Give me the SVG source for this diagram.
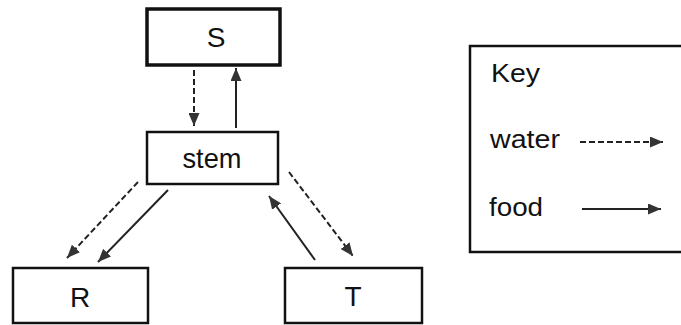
<svg xmlns="http://www.w3.org/2000/svg" width="681" height="325" viewBox="0 0 681 325">
<style>
.box{fill:#fff;stroke:#111;stroke-width:2.5}
.thick{stroke-width:3.5}
.lbl{font-family:"Liberation Sans",Arial,sans-serif;font-size:28px;fill:#111}
.key{font-family:"Liberation Sans",Arial,sans-serif;font-size:26px;fill:#111}
.food{stroke:#222;stroke-width:2;fill:none;marker-end:url(#ah)}
.water{stroke:#222;stroke-width:2;fill:none;stroke-dasharray:6 3;marker-end:url(#ah)}
</style>
<defs>
<marker id="ah" viewBox="0 0 13 11" refX="13" refY="5.5" markerWidth="13" markerHeight="11" markerUnits="userSpaceOnUse" orient="auto">
<path d="M0,0 L13,5.5 L0,11 Z" fill="#333"/>
</marker>
</defs>
<rect width="681" height="325" fill="#fff"/>
<g id="node-S"><rect class="box thick" x="147" y="9" width="133" height="56"/><text class="lbl" x="216" y="47" text-anchor="middle">S</text></g>
<g id="node-stem"><rect class="box" x="147" y="132" width="131" height="52"/><text class="lbl" x="212" y="168" text-anchor="middle" textLength="59" lengthAdjust="spacingAndGlyphs" font-size="26">stem</text></g>
<g id="node-R"><rect class="box" x="13" y="268" width="135" height="55"/><text class="lbl" x="80" y="307" text-anchor="middle">R</text></g>
<g id="node-T"><rect class="box" x="285" y="268" width="137" height="55"/><text class="lbl" x="353" y="306" text-anchor="middle">T</text></g>
<g id="key">
<rect class="box" x="470" y="46" width="220" height="206" stroke-width="2"/>
<text class="key" x="491" y="82" textLength="49" lengthAdjust="spacingAndGlyphs">Key</text>
<text class="key" x="490" y="148" textLength="70" lengthAdjust="spacingAndGlyphs">water</text>
<text class="key" x="489" y="216" textLength="54" lengthAdjust="spacingAndGlyphs">food</text>
<line class="water" x1="580" y1="142" x2="663" y2="142"/>
<line class="food" x1="582" y1="209" x2="661" y2="209"/>
</g>
<g id="connectors">
<line class="water" x1="194" y1="70" x2="194" y2="126"/>
<line class="food" x1="236" y1="128" x2="236" y2="68"/>
<line class="water" x1="138" y1="182" x2="67" y2="258"/>
<line class="food" x1="168" y1="190" x2="98" y2="262"/>
<line class="food" x1="315" y1="260" x2="269" y2="196"/>
<line class="water" x1="289" y1="172" x2="353" y2="256"/>
</g>
</svg>
